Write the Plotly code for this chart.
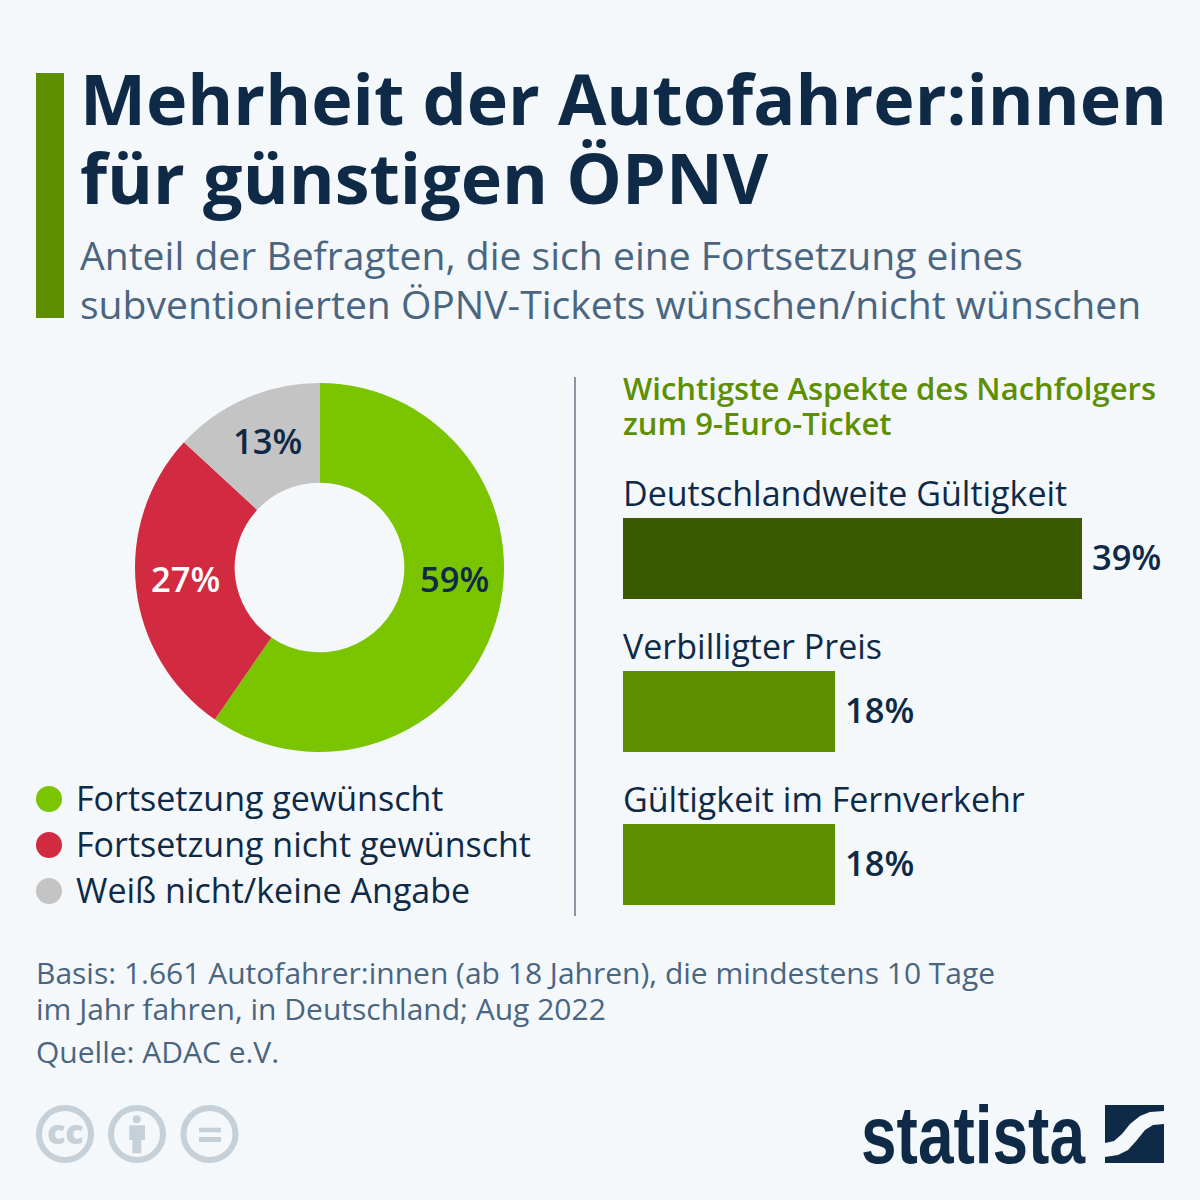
import plotly.graph_objects as go

# donut data
pie_labels = ["Fortsetzung gewünscht", "Fortsetzung nicht gewünscht", "Weiß nicht/keine Angabe"]
pie_values = [59, 27, 13]
pie_colors = ["#7ac400", "#d22a41", "#c4c4c4"]
pie_text = ["59%", "27%", "13%"]
pie_text_colors = ["#0f2a46", "#ffffff", "#0f2a46"]

# bars
bar_labels = ["Deutschlandweite Gültigkeit", "Verbilligter Preis", "Gültigkeit im Fernverkehr"]
bar_values = [39, 18, 18]
bar_colors = ["#3a5a00", "#5d8f00", "#5d8f00"]

NAVY = "#0f2a46"
SLATE = "#4a6580"
ICON = "#c5d0d9"
BG = "#f4f8fb"
FONT = "Open Sans"
W = 1200.0

fig = go.Figure()

fig.add_trace(go.Pie(
    labels=pie_labels, values=pie_values, hole=0.46, sort=False, direction="clockwise",
    rotation=0, marker=dict(colors=pie_colors, line=dict(width=0)),
    textinfo="none", domain=dict(x=[135/W, 504/W], y=[1-752/W, 1-383/W]), showlegend=False,
))

def text(x, y, s, size, color, weight=400, anchor="left", family=FONT):
    # annotations carry a small inner padding, so pull them back by 2px
    xs = -2 if anchor == "left" else 0
    fig.add_annotation(x=x/W, y=1-y/W, xref="paper", yref="paper", text=s, showarrow=False,
                       xanchor=anchor, yanchor="middle", align="left", xshift=xs, yshift=2,
                       font=dict(family=family, size=size, color=color, weight=weight))

def rect(x0, y0, x1, y1, color):
    fig.add_shape(type="rect", xref="paper", yref="paper", x0=x0/W, x1=x1/W, y0=1-y1/W, y1=1-y0/W,
                  fillcolor=color, line_width=0)

def circle(cx, cy, r, fill, line=None, width=0):
    fig.add_shape(type="circle", xref="paper", yref="paper", x0=(cx-r)/W, x1=(cx+r)/W,
                  y0=1-(cy+r)/W, y1=1-(cy-r)/W, fillcolor=fill,
                  line=dict(color=line, width=width) if line else dict(width=0))

def path(points, color):
    d = " ".join(f"{c} {x/W:.5f} {1-y/W:.5f}" if c in "ML" else c for c, x, y in points)
    fig.add_shape(type="path", xref="paper", yref="paper", path=d, fillcolor=color, line_width=0)

# donut labels
for x, y, s, col in zip([454.5, 185.5, 267.5], [580, 580, 442], pie_text, pie_text_colors):
    text(x, y, s, 34.5, col, 600, "center")

# three separate bar axes so rows sit at the picture's positions
bar_tops = [518, 671, 824]
bar_h = 81
for i, (lab, val, col) in enumerate(zip(bar_labels, bar_values, bar_colors)):
    n = "" if i == 0 else str(i+1)
    fig.add_trace(go.Bar(
        x=[val], y=[lab], orientation="h", marker=dict(color=col, line=dict(width=0)),
        width=1, xaxis=f"x{n}", yaxis=f"y{n}", showlegend=False,
    ))
    fig.update_layout({
        f"xaxis{n}": dict(domain=[623/W, 1082/W], range=[0, 39], visible=False, fixedrange=True),
        f"yaxis{n}": dict(domain=[1-(bar_tops[i]+bar_h)/W, 1-bar_tops[i]/W], visible=False, fixedrange=True),
    })
    fig.add_annotation(x=val, y=lab, xref=f"x{n}", yref=f"y{n}", text=f"{val}%", showarrow=False,
                       xanchor="left", xshift=8, yshift=2,
                       font=dict(family=FONT, size=34.5, color=NAVY, weight=600))

text(80, 100, "Mehrheit der Autofahrer:innen", 70, NAVY, 700)
text(80, 179, "für günstigen ÖPNV", 70, NAVY, 700)
text(80, 257, "Anteil der Befragten, die sich eine Fortsetzung eines", 39.1, SLATE)
text(80, 305, "subventionierten ÖPNV-Tickets wünschen/nicht wünschen", 39.1, SLATE)
text(623, 390, "Wichtigste Aspekte des Nachfolgers", 31, "#5d8f00", 600)
text(623, 425, "zum 9-Euro-Ticket", 31, "#5d8f00", 600)
for y, lab in zip([495, 648, 801], bar_labels):
    text(623, y, lab, 34, NAVY)
for y, lab, col in zip([799, 845, 891], pie_labels, pie_colors):
    text(76, y + 1, lab, 34, NAVY)
    circle(49, y, 13, col)
text(36, 974, "Basis: 1.661 Autofahrer:innen (ab 18 Jahren), die mindestens 10 Tage", 30, SLATE)
text(36, 1010, "im Jahr fahren, in Deutschland; Aug 2022", 30, SLATE)
text(36, 1053, "Quelle: ADAC e.V.", 30, SLATE)

# accent bar and divider
rect(36, 73, 64, 318, "#5d8f00")
fig.add_shape(type="line", xref="paper", yref="paper", x0=575/W, x1=575/W, y0=1-916/W, y1=1-377/W,
              line=dict(color="#8a97a3", width=2))

# licence icons
for cx in [65, 137, 209.5]:
    circle(cx, 1134, 26, "rgba(0,0,0,0)", ICON, 6)
text(65, 1133, "cc", 34, ICON, 800, "center")
circle(136.7, 1119.3, 4, ICON)
rect(129.3, 1125.3, 145, 1140, ICON)
rect(132.3, 1140, 141.3, 1153.3, ICON)
rect(199, 1127.7, 221, 1132.3, ICON)
rect(199, 1137, 221, 1142, ICON)

# logo, wordmark squeezed to width in the post script below
text(1005, 1136, "statista", 82, NAVY, 700, "center", "Liberation Sans")
rect(1105, 1105, 1164, 1163, NAVY)
path([("M", 1164, 1111), ("L", 1150, 1112), ("L", 1140, 1116), ("L", 1130, 1124), ("L", 1122, 1134),
      ("L", 1114, 1141), ("L", 1105, 1143), ("L", 1105, 1157), ("L", 1118, 1155), ("L", 1128, 1150),
      ("L", 1137, 1140), ("L", 1145, 1130), ("L", 1153, 1125), ("L", 1164, 1124), ("Z", 0, 0)], BG)

fig.update_layout(width=1200, height=1200, margin=dict(l=0, r=0, t=0, b=0),
                  paper_bgcolor=BG, plot_bgcolor=BG, bargap=0, font=dict(family=FONT))

squeeze = """
document.body.style.margin = '0';
document.querySelectorAll('.annotation-text').forEach(function (t) {
    if (t.textContent === 'statista') {
        t.setAttribute('textLength', '224');
        t.setAttribute('lengthAdjust', 'spacingAndGlyphs');
    }
});
"""
fig.write_html("out.html", post_script=squeeze, config=dict(displayModeBar=False))
